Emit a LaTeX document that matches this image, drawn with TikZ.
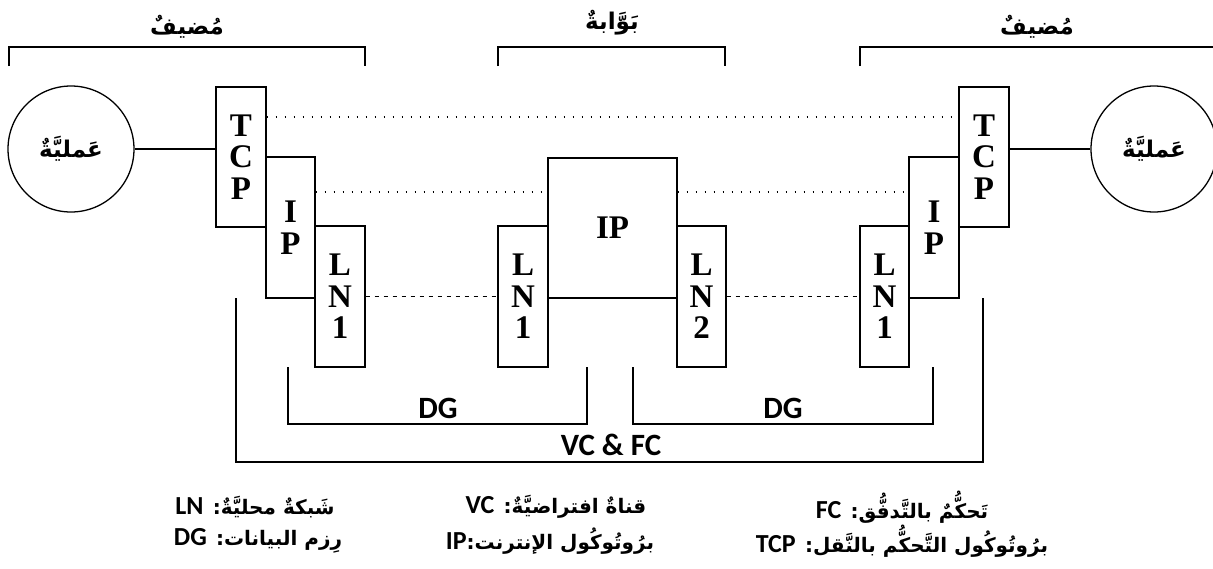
\documentclass[tikz,border=0pt]{standalone}
\usepackage{fontspec}
\setmainfont{Liberation Serif}
\newfontfamily\arabicfont[Script=Arabic]{DejaVu Sans}
\newfontfamily\latfont{Carlito}
\newcommand{\legLat}[1]{\beginL{\latfont\bfseries\fontsize{26}{28}\selectfont #1}\endL}
\TeXXeTstate=1
\begin{document}
\begin{tikzpicture}[x=1pt,y=-1pt,
  layerbox/.style={draw, line width=1.3pt, inner sep=0pt, align=center,
    font=\bfseries\fontsize{33}{31.5}\selectfont},
  narrowbox/.style={layerbox, minimum width=50pt, minimum height=141pt},
  proc/.style={draw, circle, line width=1.3pt, minimum size=126pt, inner sep=0pt,
    font=\arabicfont\bfseries\fontsize{23}{26}\selectfont},
  wire/.style={line width=1.3pt},
  dotline/.style={line width=1.6pt, dash pattern=on 1.6pt off 7.4pt},
  dashline/.style={line width=1.4pt, dash pattern=on 4.5pt off 4.5pt},
  bracket/.style={line width=1.3pt},
  arlabel/.style={inner sep=0pt, font=\arabicfont\bfseries\fontsize{23}{26}\selectfont},
  latlabel/.style={inner sep=0pt, font=\latfont\bfseries\fontsize{31}{34}\selectfont},
  leg/.style={inner sep=0pt, font=\arabicfont\bfseries\fontsize{20}{24}\selectfont}
]
\useasboundingbox (0,0) rectangle (1213,568);

% processes
\node[proc] (circL) at (71,149) {\beginR عَمليَّةٌ\endR};
\node[proc] (circR) at (1154,149) {\beginR عَمليَّةٌ\endR};

% left host stack
\node[narrowbox, minimum height=140pt] (tcpL) at (241,157) {T\\C\\P};
\node[narrowbox, minimum width=49pt] (ipL) at (290.5,227.5) {I\\P};
\node[narrowbox] (lnL) at (340,296.5) {L\\N\\1};

% gateway
\node[narrowbox] (lnM1) at (523,296.5) {L\\N\\1};
\node[layerbox, minimum width=129pt, minimum height=140pt] (ipM) at (612.5,228) {IP};
\node[narrowbox, minimum width=49pt] (lnM2) at (701.5,296.5) {L\\N\\2};

% right host stack
\node[narrowbox, minimum width=49pt] (lnR) at (884.5,296.5) {L\\N\\1};
\node[narrowbox] (ipR) at (934,227.5) {I\\P};
\node[narrowbox, minimum height=140pt] (tcpR) at (984,157) {T\\C\\P};

% connectors
\draw[wire] (circL.east) -- (circL.east -| tcpL.west);
\draw[wire] (circR.west) -- (circR.west -| tcpR.east);
\draw[dotline] ([yshift=40pt]tcpL.east) -- ([yshift=40pt]tcpR.west);
\draw[dotline] ([yshift=35.5pt]ipL.east) -- ([yshift=35.5pt]ipL.east -| ipM.west);
\draw[dotline] ([yshift=35.5pt]ipR.west -| ipM.east) -- ([yshift=35.5pt]ipR.west);
\draw[dashline] (lnL.east) -- (lnM1.west);
\draw[dashline] (lnM2.east) -- (lnR.west);

% top brackets
\draw[bracket] (9,66) -- (9,47) -- (365,47) -- (365,66);
\draw[bracket] (498,66) -- (498,47) -- (725,47) -- (725,66);
\draw[bracket] (860,66) -- (860,47) -- (1216,47) -- (1216,66);
\node[arlabel] (hostL) at (187,27) {\beginR مُضيفٌ\endR};
\node[arlabel] (gate) at (612,23) {\beginR بَوَّابةٌ\endR};
\node[arlabel] (hostR) at (1037,27) {\beginR مُضيفٌ\endR};

% bottom brackets
\draw[bracket] (288,367) -- (288,424) -- (587,424) -- (587,367);
\draw[bracket] (633,367) -- (633,424) -- (933,424) -- (933,367);
\draw[bracket] (236,298) -- (236,462) -- (983,462) -- (983,298);
\node[latlabel] (dg1) at (438,408) {DG};
\node[latlabel] (dg2) at (783,408) {DG};
\node[latlabel] (vcfc) at (611,445) {VC \& FC};

% legend
\node[leg] (lgLN) at (255,507) {\beginR شَبكةٌ محليَّةٌ: \legLat{LN}\endR};
\node[leg] (lgDG) at (258,541) {\beginR رِزم البيانات: \legLat{DG}\endR};
\node[leg] (lgVC) at (556,507) {\beginR قناةٌ افتراضيَّةٌ: \legLat{VC}\endR};
\node[leg] (lgIP) at (550,541) {\beginR برُوتُوكُول الإنترنت:\legLat{IP}\endR};
\node[leg] (lgFC) at (902,507) {\beginR تَحكُّمٌ بالتَّدفُّق: \legLat{FC}\endR};
\node[leg] (lgTCP) at (902,541) {\beginR برُوتُوكُول التَّحكُّم بالنَّقل: \legLat{TCP}\endR};
\end{tikzpicture}
\end{document}
